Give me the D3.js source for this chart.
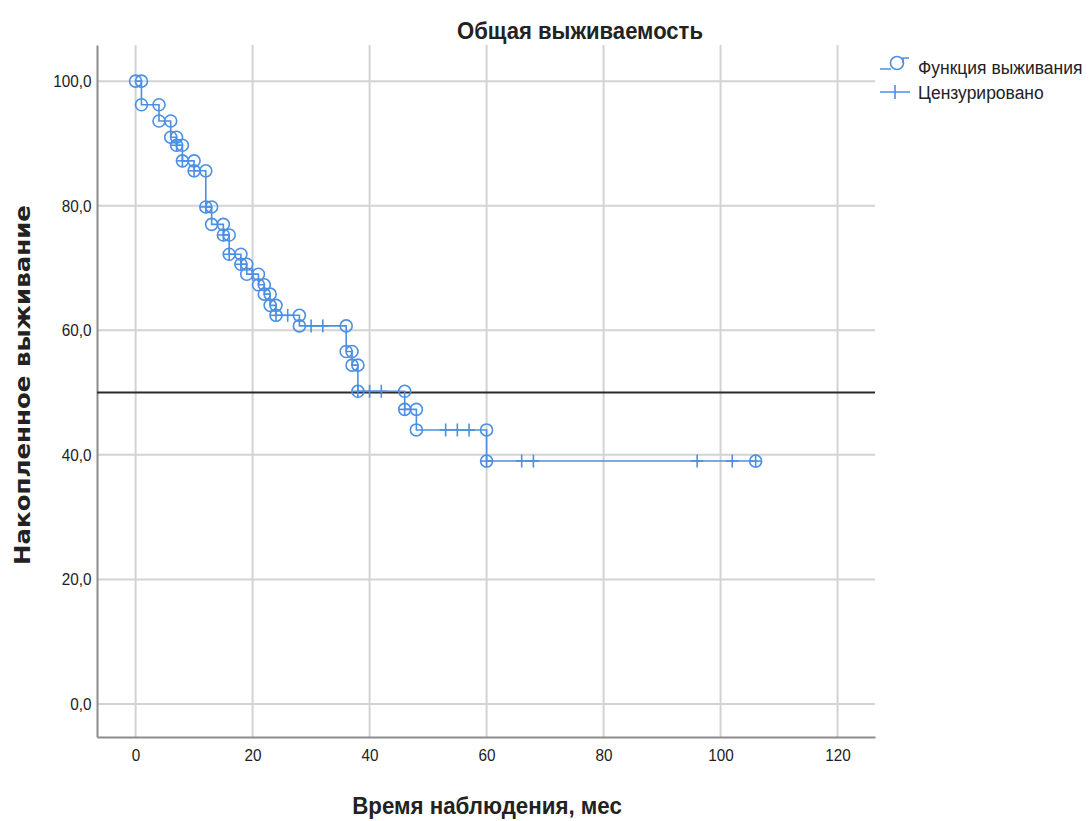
<!DOCTYPE html>
<html>
<head>
<meta charset="utf-8">
<script src="https://cdn.jsdelivr.net/npm/d3@7"></script>
<style>
  html, body { margin: 0; padding: 0; background: #fff; }
  svg { display: block; }
</style>
</head>
<body>
<svg id="chart" width="1091" height="821" font-family="'Liberation Sans', Arial, sans-serif" fill="#222"></svg>
<script>
// Event times (months) and cumulative survival (%) right after each event
const eventTimes = [1, 4, 6, 7, 8, 10, 12, 13, 15, 16, 18, 19, 21, 22, 23, 24, 28, 36, 37, 38, 46, 48, 60];
const survivalAfter = [96.2, 93.6, 91.0, 89.7, 87.2, 85.6, 79.8, 77.0, 75.3, 72.2, 70.6, 69.0, 67.3, 65.8, 64.0, 62.4, 60.7, 56.6, 54.4, 50.2, 47.3, 44.0, 39.0];
const lastFollowUp = 106;
// Censored observations (months)
const censoredTimes = [7, 8, 10, 12, 15, 16, 18, 20, 24, 26, 30, 32, 38, 40, 42, 46, 53, 55, 57, 60, 66, 68, 96, 102, 106];
// Axis ticks
const xTicks = [0, 20, 40, 60, 80, 100, 120];
const yTicks = [0, 20, 40, 60, 80, 100];
const medianLine = 50;

const svg = d3.select("#chart");
const blue = "#4d8fe3";

const x = d3.scaleLinear().domain([-6.6, 126.4]).range([97, 875]);
const y = d3.scaleLinear().domain([-5.3, 105.8]).range([737, 45]);
const [x0, x1] = x.range();
const [y0, y1] = y.range();

// Grid
const grid = svg.append("g");
grid.selectAll(".vg").data(xTicks).join("line")
  .attr("x1", d => x(d)).attr("x2", d => x(d))
  .attr("y1", y1).attr("y2", y0)
  .attr("stroke", "#d3d3d3").attr("stroke-width", 2);
grid.selectAll(".hg").data(yTicks).join("line")
  .attr("x1", x0).attr("x2", x1)
  .attr("y1", d => y(d)).attr("y2", d => y(d))
  .attr("stroke", "#d3d3d3").attr("stroke-width", 2);

// Axes
const fmt = d => d.toFixed(1).replace(".", ",");
const yAxis = svg.append("g").attr("transform", `translate(${x0},0)`)
  .call(d3.axisLeft(y).tickValues(yTicks).tickFormat(fmt).tickSize(0).tickPadding(6));
const xAxis = svg.append("g").attr("transform", `translate(0,${y0})`)
  .call(d3.axisBottom(x).tickValues(xTicks).tickFormat(d3.format("d")).tickSize(0).tickPadding(12));
[yAxis, xAxis].forEach(g => {
  g.select(".domain").attr("stroke", "#8c8c8c").attr("stroke-width", 2);
  g.selectAll("text").attr("font-size", 17).attr("fill", "#222")
    .attr("font-family", "'Liberation Sans', Arial, sans-serif")
    .attr("transform", "scale(0.9,1)");
});

// Median reference line
svg.append("line")
  .attr("x1", x0).attr("x2", x1)
  .attr("y1", y(medianLine)).attr("y2", y(medianLine))
  .attr("stroke", "#2b2b2b").attr("stroke-width", 2);

// Step path vertices
const vertices = [[0, 100]];
let prev = 100;
eventTimes.forEach((t, i) => {
  vertices.push([t, prev]);
  vertices.push([t, survivalAfter[i]]);
  prev = survivalAfter[i];
});
vertices.push([lastFollowUp, prev]);

const survAt = t => {
  let s = 100;
  eventTimes.forEach((et, i) => { if (et <= t) s = survivalAfter[i]; });
  return s;
};

svg.append("path")
  .datum(vertices)
  .attr("d", d3.line().x(d => x(d[0])).y(d => y(d[1])))
  .attr("fill", "none").attr("stroke", blue).attr("stroke-width", 1.6);

svg.append("g").selectAll("circle").data(vertices).join("circle")
  .attr("cx", d => x(d[0])).attr("cy", d => y(d[1])).attr("r", 6)
  .attr("fill", "none").attr("stroke", blue).attr("stroke-width", 1.6);

const cens = svg.append("g").attr("stroke", blue).attr("stroke-width", 1.6);
censoredTimes.forEach(t => {
  const cx = x(t), cy = y(survAt(t));
  cens.append("line").attr("x1", cx).attr("x2", cx).attr("y1", cy - 6.5).attr("y2", cy + 6.5);
  cens.append("line").attr("x1", cx - 6).attr("x2", cx + 6).attr("y1", cy).attr("y2", cy);
});

// Titles (horizontally condensed bold text)
const condensed = (px, py, size, sx, str) =>
  svg.append("text").attr("transform", `translate(${px},${py}) scale(${sx},1)`)
    .attr("text-anchor", "middle").attr("font-size", size).attr("font-weight", "bold").text(str);
condensed(580, 39, 24, 0.92, "Общая выживаемость");
condensed(487, 814, 24, 0.93, "Время наблюдения, мес");
svg.append("text").attr("transform", "translate(30,385) rotate(-90)").attr("text-anchor", "middle")
  .attr("font-family", "'DejaVu Sans', Verdana, sans-serif")
  .attr("font-size", 21).attr("font-weight", "bold")
  .attr("textLength", 360).attr("lengthAdjust", "spacingAndGlyphs")
  .text("Накопленное выживание");

// Legend
const lg = svg.append("g").attr("fill", "none").attr("stroke", blue).attr("stroke-width", 1.6);
lg.append("path").attr("d", "M880,69 H891 M903,63 V58 H909");
lg.append("circle").attr("cx", 897).attr("cy", 63).attr("r", 6.5);
lg.append("path").attr("d", "M880,92 H910 M895,85 V99");
const legendText = (py, str) =>
  svg.append("text").attr("transform", `translate(918,${py}) scale(0.92,1)`)
    .attr("font-size", 19).text(str);
legendText(74, "Функция выживания");
legendText(99, "Цензурировано");
</script>
</body>
</html>
